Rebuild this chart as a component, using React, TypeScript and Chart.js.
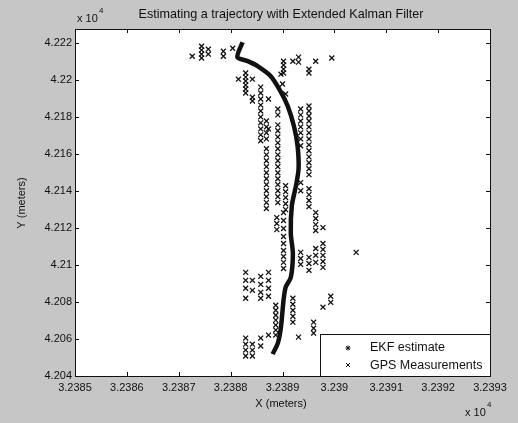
import { useEffect, useRef } from "react";
import { Chart, registerables } from "chart.js";

Chart.register(...registerables);

const FONT = '"Liberation Sans", Arial, Helvetica, sans-serif';

const titleText = "Estimating a trajectory with Extended Kalman Filter";
const xAxisLabel = "X (meters)";
const yAxisLabel = "Y (meters)";
const legendLabels = ["EKF estimate", "GPS Measurements"];
const exponentLabel = "x 10";
const exponentPower = "4";

const xMin = 3.2385;
const xMax = 3.2393;
const xStep = 0.0001;
const yMin = 4.204;
const yMax = 4.22275;
const yStep = 0.002;

// EKF estimate trajectory (units of 10^4 m)
const ekfX = [
  3.238823, 3.238813, 3.238833, 3.238852, 3.238877, 3.238897, 3.23891, 3.238922, 3.238929, 3.238931,
  3.238926, 3.238918, 3.238916, 3.23892, 3.238916, 3.238906, 3.238902, 3.238897, 3.238891, 3.238881,
];
const ekfY = [
  4.222034, 4.221228, 4.221012, 4.220743, 4.220205, 4.219343, 4.21859, 4.217513, 4.216436, 4.215198,
  4.214282, 4.213206, 4.211698, 4.210622, 4.20933, 4.208791, 4.208092, 4.206638, 4.205777, 4.205184,
];

// GPS measurements (units of 10^4 m), one line per cluster
const gpsX = [
  3.238726,
  3.238744, 3.238744, 3.238744, 3.238744,
  3.238757, 3.238757,
  3.238786, 3.238786,
  3.238804,
  3.238902, 3.238902, 3.238902, 3.238902,
  3.23892,
  3.238931, 3.238931,
  3.238951, 3.238951,
  3.238964,
  3.238995,
  3.238829, 3.238829, 3.238829, 3.238829, 3.238829, 3.238829,
  3.238815,
  3.238842, 3.238842, 3.238842,
  3.238858, 3.238858, 3.238858, 3.238858, 3.238858, 3.238858, 3.238858, 3.238858, 3.238858, 3.238858,
  3.238873, 3.238873,
  3.238891, 3.238891, 3.238891, 3.238891, 3.238891, 3.238891, 3.238891, 3.238891, 3.238891, 3.238891, 3.238891, 3.238891, 3.238891, 3.238891, 3.238891, 3.238891,
  3.238869, 3.238869, 3.238869, 3.238869, 3.238869, 3.238869, 3.238869, 3.238869, 3.238869, 3.238869, 3.238869, 3.238869, 3.238869, 3.238869, 3.238869,
  3.238906, 3.238906, 3.238906, 3.238906, 3.238906,
  3.238935, 3.238935, 3.238935, 3.238935, 3.238935, 3.238935, 3.238935, 3.238935, 3.238935, 3.238935, 3.238935, 3.238935,
  3.238951, 3.238951, 3.238951, 3.238951, 3.238951, 3.238951, 3.238951, 3.238951, 3.238951, 3.238951, 3.238951, 3.238951, 3.238951, 3.238951, 3.238951, 3.238951, 3.238951, 3.238951, 3.238951, 3.238951,
  3.238889, 3.238889, 3.238889,
  3.238902, 3.238902, 3.238902, 3.238902, 3.238902, 3.238902, 3.238902, 3.238902, 3.238902,
  3.238964, 3.238964, 3.238964, 3.238964, 3.238964, 3.238964, 3.238964,
  3.238978, 3.238978, 3.238978, 3.238978, 3.238978, 3.238978, 3.238978,
  3.239042,
  3.238829, 3.238829, 3.238829, 3.238829, 3.238829, 3.238829, 3.238829, 3.238829,
  3.238842, 3.238842, 3.238842, 3.238842, 3.238842,
  3.238858, 3.238858, 3.238858, 3.238858, 3.238858, 3.238858,
  3.238873, 3.238873, 3.238873, 3.238873, 3.238873,
  3.238887, 3.238887, 3.238887, 3.238887, 3.238887, 3.238887, 3.238887,
  3.23892, 3.23892, 3.23892, 3.23892, 3.23892,
  3.238931,
  3.23896, 3.23896, 3.23896,
  3.238993, 3.238993,
  3.238897, 3.2389, 3.238906,
];
const gpsY = [
  4.22128,
  4.22182, 4.22161, 4.22139, 4.22118,
  4.22166, 4.22139,
  4.22155, 4.22128,
  4.22171,
  4.22101, 4.2208, 4.22058, 4.22037,
  4.22101,
  4.22123, 4.22096,
  4.22058, 4.22037,
  4.22101,
  4.22118,
  4.22037, 4.22015, 4.21994, 4.21972, 4.21951, 4.21929,
  4.22004,
  4.22004, 4.21906, 4.21886,
  4.21961, 4.21929, 4.21897, 4.21864, 4.21832, 4.218, 4.21768, 4.21735, 4.21703, 4.21671,
  4.21897, 4.21735,
  4.21843, 4.21811, 4.21757, 4.21725, 4.21692, 4.2166, 4.21628, 4.21595, 4.21563, 4.21531, 4.21498, 4.21466, 4.21434, 4.21401, 4.21369, 4.21337,
  4.21778, 4.21746, 4.21714, 4.21681, 4.21628, 4.21595, 4.21563, 4.21531, 4.21498, 4.21466, 4.21434, 4.21401, 4.21369, 4.21337, 4.21305,
  4.21428, 4.21396, 4.21364, 4.21331, 4.21299,
  4.21843, 4.21811, 4.21778, 4.21746, 4.21714, 4.21681, 4.21644, 4.21445, 4.21401, 4.21068, 4.21035, 4.21003,
  4.21859, 4.21832, 4.21805, 4.21778, 4.21746, 4.21714, 4.21681, 4.21649, 4.21617, 4.21584, 4.21552, 4.2152, 4.21488, 4.21412, 4.2138, 4.21348, 4.21315, 4.21041, 4.21008, 4.20971,
  4.21256, 4.21224, 4.21191,
  4.21283, 4.2124, 4.21197, 4.21154, 4.21116, 4.21078, 4.21046, 4.21014, 4.20981,
  4.21283, 4.21251, 4.21218, 4.21186, 4.21089, 4.21052, 4.21014,
  4.21202, 4.21116, 4.21084, 4.21052, 4.21019, 4.20987, 4.20772,
  4.21068,
  4.2096, 4.20917, 4.20874, 4.2082, 4.20605, 4.20572, 4.2054, 4.20508,
  4.20917, 4.20863, 4.20572, 4.2054, 4.20508,
  4.20938, 4.20895, 4.20852, 4.2082, 4.20605, 4.20562,
  4.2096, 4.20917, 4.20874, 4.20831, 4.20621,
  4.20782, 4.20755, 4.20728, 4.20702, 4.20675, 4.20648, 4.20621,
  4.2082, 4.20788, 4.20755, 4.20723, 4.20691,
  4.2061,
  4.20691, 4.20658, 4.20632,
  4.20831, 4.20798,
  4.22031, 4.21978, 4.21924,
];

function drawCross(ctx: CanvasRenderingContext2D, x: number, y: number, r: number) {
  ctx.beginPath();
  ctx.moveTo(x - r, y - r);
  ctx.lineTo(x + r, y + r);
  ctx.moveTo(x - r, y + r);
  ctx.lineTo(x + r, y - r);
  ctx.stroke();
}

function drawStar(ctx: CanvasRenderingContext2D, x: number, y: number, r: number) {
  drawCross(ctx, x, y, r * 0.72);
  ctx.beginPath();
  ctx.moveTo(x - r, y);
  ctx.lineTo(x + r, y);
  ctx.moveTo(x, y - r);
  ctx.lineTo(x, y + r);
  ctx.stroke();
}

const matlabPlugin = {
  id: "matlabLook",
  beforeDraw(chart: any) {
    const { ctx, chartArea } = chart;
    ctx.save();
    ctx.fillStyle = "#c6c6c6";
    ctx.fillRect(0, 0, chart.width, chart.height);
    ctx.fillStyle = "#ffffff";
    ctx.fillRect(chartArea.left, chartArea.top, chartArea.right - chartArea.left, chartArea.bottom - chartArea.top);
    ctx.restore();
  },
  afterDraw(chart: any) {
    const { ctx, chartArea } = chart;
    const { left, right, top, bottom } = chartArea;
    const xs = chart.scales.x;
    const ys = chart.scales.y;
    ctx.save();
    ctx.strokeStyle = "#111";
    ctx.lineWidth = 1;
    // inward ticks
    ctx.beginPath();
    xs.ticks.forEach((t: any) => {
      const p = Math.round(xs.getPixelForValue(t.value)) + 0.5;
      ctx.moveTo(p, bottom);
      ctx.lineTo(p, bottom - 4);
      ctx.moveTo(p, top);
      ctx.lineTo(p, top + 4);
    });
    ys.ticks.forEach((t: any) => {
      const p = Math.round(ys.getPixelForValue(t.value)) + 0.5;
      ctx.moveTo(left, p);
      ctx.lineTo(left + 4, p);
      ctx.moveTo(right, p);
      ctx.lineTo(right - 4, p);
    });
    ctx.stroke();
    // frame
    ctx.strokeRect(Math.round(left) + 0.5, Math.round(top) + 0.5, Math.round(right - left), Math.round(bottom - top));

    // legend
    const lx = 320.5;
    const ly = 334.5;
    ctx.fillStyle = "#ffffff";
    ctx.fillRect(lx, ly, right - lx, bottom - ly);
    ctx.strokeRect(lx, ly, Math.round(right) - lx + 0.5, Math.round(bottom) - ly + 0.5);
    ctx.fillStyle = "#111";
    ctx.font = `12.5px ${FONT}`;
    ctx.textAlign = "left";
    ctx.textBaseline = "middle";
    ctx.lineWidth = 1;
    drawStar(ctx, 348, 348, 2.5);
    drawCross(ctx, 348, 365, 2);
    ctx.fillText(legendLabels[0], 370, 348);
    ctx.fillText(legendLabels[1], 370, 366);

    // title
    ctx.font = `12.6px ${FONT}`;
    ctx.textAlign = "center";
    ctx.fillText(titleText, 281, 15);

    // exponents
    ctx.textAlign = "left";
    ctx.font = `11px ${FONT}`;
    ctx.fillText(exponentLabel, 77, 19);
    ctx.fillText(exponentLabel, 465, 413);
    ctx.font = `8px ${FONT}`;
    ctx.fillText(exponentPower, 99, 11);
    ctx.fillText(exponentPower, 487, 405);

    // axis titles
    ctx.font = `11px ${FONT}`;
    ctx.textAlign = "center";
    ctx.fillText(xAxisLabel, 281, 404);
    ctx.translate(22, 203);
    ctx.rotate(-Math.PI / 2);
    ctx.fillText(yAxisLabel, 0, 0);
    ctx.restore();
  },
};

export default function App() {
  const ref = useRef<HTMLCanvasElement>(null);

  useEffect(() => {
    document.body.style.margin = "0";
    const canvas = ref.current;
    if (!canvas) return;
    const chart = new Chart(canvas, {
      type: "scatter",
      data: {
        datasets: [
          {
            label: legendLabels[0],
            data: ekfX.map((x, i) => ({ x, y: ekfY[i] })),
            showLine: true,
            borderColor: "#111",
            backgroundColor: "#111",
            borderWidth: 4.5,
            pointRadius: 0,
            tension: 0.25,
            order: 0,
          },
          {
            label: legendLabels[1],
            data: gpsX.map((x, i) => ({ x, y: gpsY[i] })),
            showLine: false,
            pointStyle: "crossRot",
            pointRadius: 3.5,
            borderColor: "#111",
            backgroundColor: "#111",
            borderWidth: 1.3,
            order: 1,
          },
        ],
      },
      options: {
        responsive: false,
        animation: false,
        layout: { padding: { left: 0, right: 28, top: 29, bottom: 0 } },
        plugins: { legend: { display: false }, tooltip: { enabled: false }, title: { display: false } },
        scales: {
          x: {
            type: "linear",
            min: xMin,
            max: xMax,
            ticks: {
              stepSize: xStep,
              includeBounds: false,
              autoSkip: false,
              maxRotation: 0,
              padding: 5,
              color: "#111",
              font: { family: FONT, size: 11 },
              callback: (v: any) => String(Number(Number(v).toFixed(4))),
            },
            grid: { display: false, drawTicks: false },
            border: { display: false },
            afterFit: (s: any) => {
              s.height = 47;
            },
          },
          y: {
            type: "linear",
            min: yMin,
            max: yMax,
            ticks: {
              stepSize: yStep,
              includeBounds: false,
              autoSkip: false,
              padding: 3,
              color: "#111",
              font: { family: FONT, size: 11 },
              callback: (v: any) => String(Number(Number(v).toFixed(3))),
            },
            grid: { display: false, drawTicks: false },
            border: { display: false },
            afterFit: (s: any) => {
              s.width = 75;
            },
          },
        },
      },
      plugins: [matlabPlugin],
    });
    return () => chart.destroy();
  }, []);

  return <canvas ref={ref} width={518} height={423} style={{ display: "block" }} />;
}
